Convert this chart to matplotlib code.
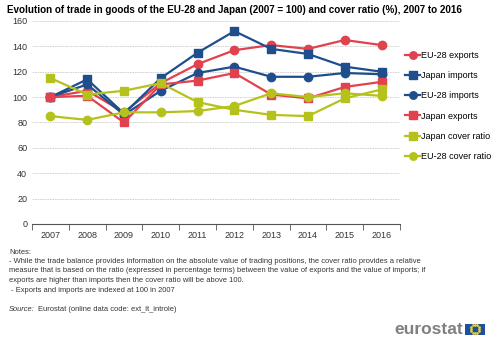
import numpy as np
import matplotlib.pyplot as plt
from matplotlib.patches import Rectangle

years = ['2007', '2008', '2009', '2010', '2011', '2012', '2013', '2014', '2015', '2016']
eu_exports = [100, 105, 88, 111, 126, 137, 141, 138, 145, 141]
japan_imports = [100, 114, 87, 115, 135, 152, 138, 134, 124, 120]
eu_imports = [100, 110, 86, 105, 119, 124, 116, 116, 119, 118]
japan_exports = [100, 101, 80, 110, 113, 119, 102, 99, 108, 112]
japan_cover = [115, 102, 105, 111, 96, 90, 86, 85, 99, 106]
eu_cover = [85, 82, 88, 88, 89, 93, 103, 100, 103, 101]

red = '#E2414E'
blue = '#1F4E8C'
green = '#B5C21C'

series = [
    ('EU-28 exports', eu_exports, red, 'o'),
    ('Japan imports', japan_imports, blue, 's'),
    ('EU-28 imports', eu_imports, blue, 'o'),
    ('Japan exports', japan_exports, red, 's'),
    ('Japan cover ratio', japan_cover, green, 's'),
    ('EU-28 cover ratio', eu_cover, green, 'o'),
]

plt.rcParams['font.family'] = ['Liberation Sans', 'DejaVu Sans']

fig = plt.figure(figsize=(5, 3.44), dpi=100)
ax = fig.add_axes([0.064, 0.349, 0.736, 0.59])

x = np.arange(len(years))
for label, vals, col, mk in series:
    ax.plot(x, vals, color=col, marker=mk, markersize=6, linewidth=1.6, label=label)

ax.set_xlim(-0.5, len(years) - 0.5)
ax.set_ylim(0, 160)
ax.set_yticks(range(0, 161, 20))
ax.set_xticks(x)
ax.set_xticklabels(years)
ax.set_xticks(np.arange(-0.5, len(years), 1), minor=True)
ax.tick_params(axis='x', which='major', length=0, labelsize=6.5, pad=5, colors='#333333')
ax.tick_params(axis='x', which='minor', length=4, color='#555555')
ax.tick_params(axis='y', length=0, labelsize=6.5, colors='#333333')
ax.grid(axis='y', linestyle=(0, (2, 1)), color='#cccccc', linewidth=0.6)
ax.set_axisbelow(True)
for s in ['top', 'right', 'left']:
    ax.spines[s].set_visible(False)
ax.spines['bottom'].set_color('#555555')

ax.legend(loc='upper left', bbox_to_anchor=(1.0, 0.88), frameon=False, fontsize=6.5,
          handlelength=1.6, handletextpad=0.1, labelspacing=1.25, markerscale=0.9,
          borderaxespad=0.2)

fig.text(0.014, 0.985, 'Evolution of trade in goods of the EU-28 and Japan (2007 = 100) and cover ratio (%), 2007 to 2016',
         fontsize=7.1, fontweight='bold', va='top', ha='left')

notes = ['Notes:',
         '- While the trade balance provides information on the absolute value of trading positions, the cover ratio provides a relative',
         'measure that is based on the ratio (expressed in percentage terms) between the value of exports and the value of imports; if',
         'exports are higher than imports then the cover ratio will be above 100.',
         ' - Exports and imports are indexed at 100 in 2007']
for i, line in enumerate(notes):
    fig.text(0.018, 1 - (252 + i * 9.5) / 344, line, fontsize=5.45, va='center', ha='left', color='#333333')

fig.text(0.018, 1 - 309.5 / 344, 'Source:', fontsize=5.45, style='italic', va='center', ha='left', color='#333333')
fig.text(0.077, 1 - 309.5 / 344, 'Eurostat (online data code: ext_lt_introle)', fontsize=5.45, va='center',
         ha='left', color='#333333')

# eurostat logo
fig.text(0.926, 1 - 329 / 344, 'eurostat', fontsize=12.5, fontweight='bold', color='#808080',
         va='center', ha='right')
fig.patches.append(Rectangle((0.93, 1 - 334.5 / 344), 0.04, 11 / 344, transform=fig.transFigure,
                             facecolor='#1F4FA0', edgecolor='none'))
ang = np.linspace(0, 2 * np.pi, 12, endpoint=False)
fig.add_artist(plt.Line2D(0.95 + 0.0085 * np.cos(ang), 1 - 329 / 344 + 0.0125 * np.sin(ang),
                          transform=fig.transFigure, linestyle='none', marker='o', markersize=0.9,
                          color='#FFD700'))

fig.savefig('out.png', dpi=100)
